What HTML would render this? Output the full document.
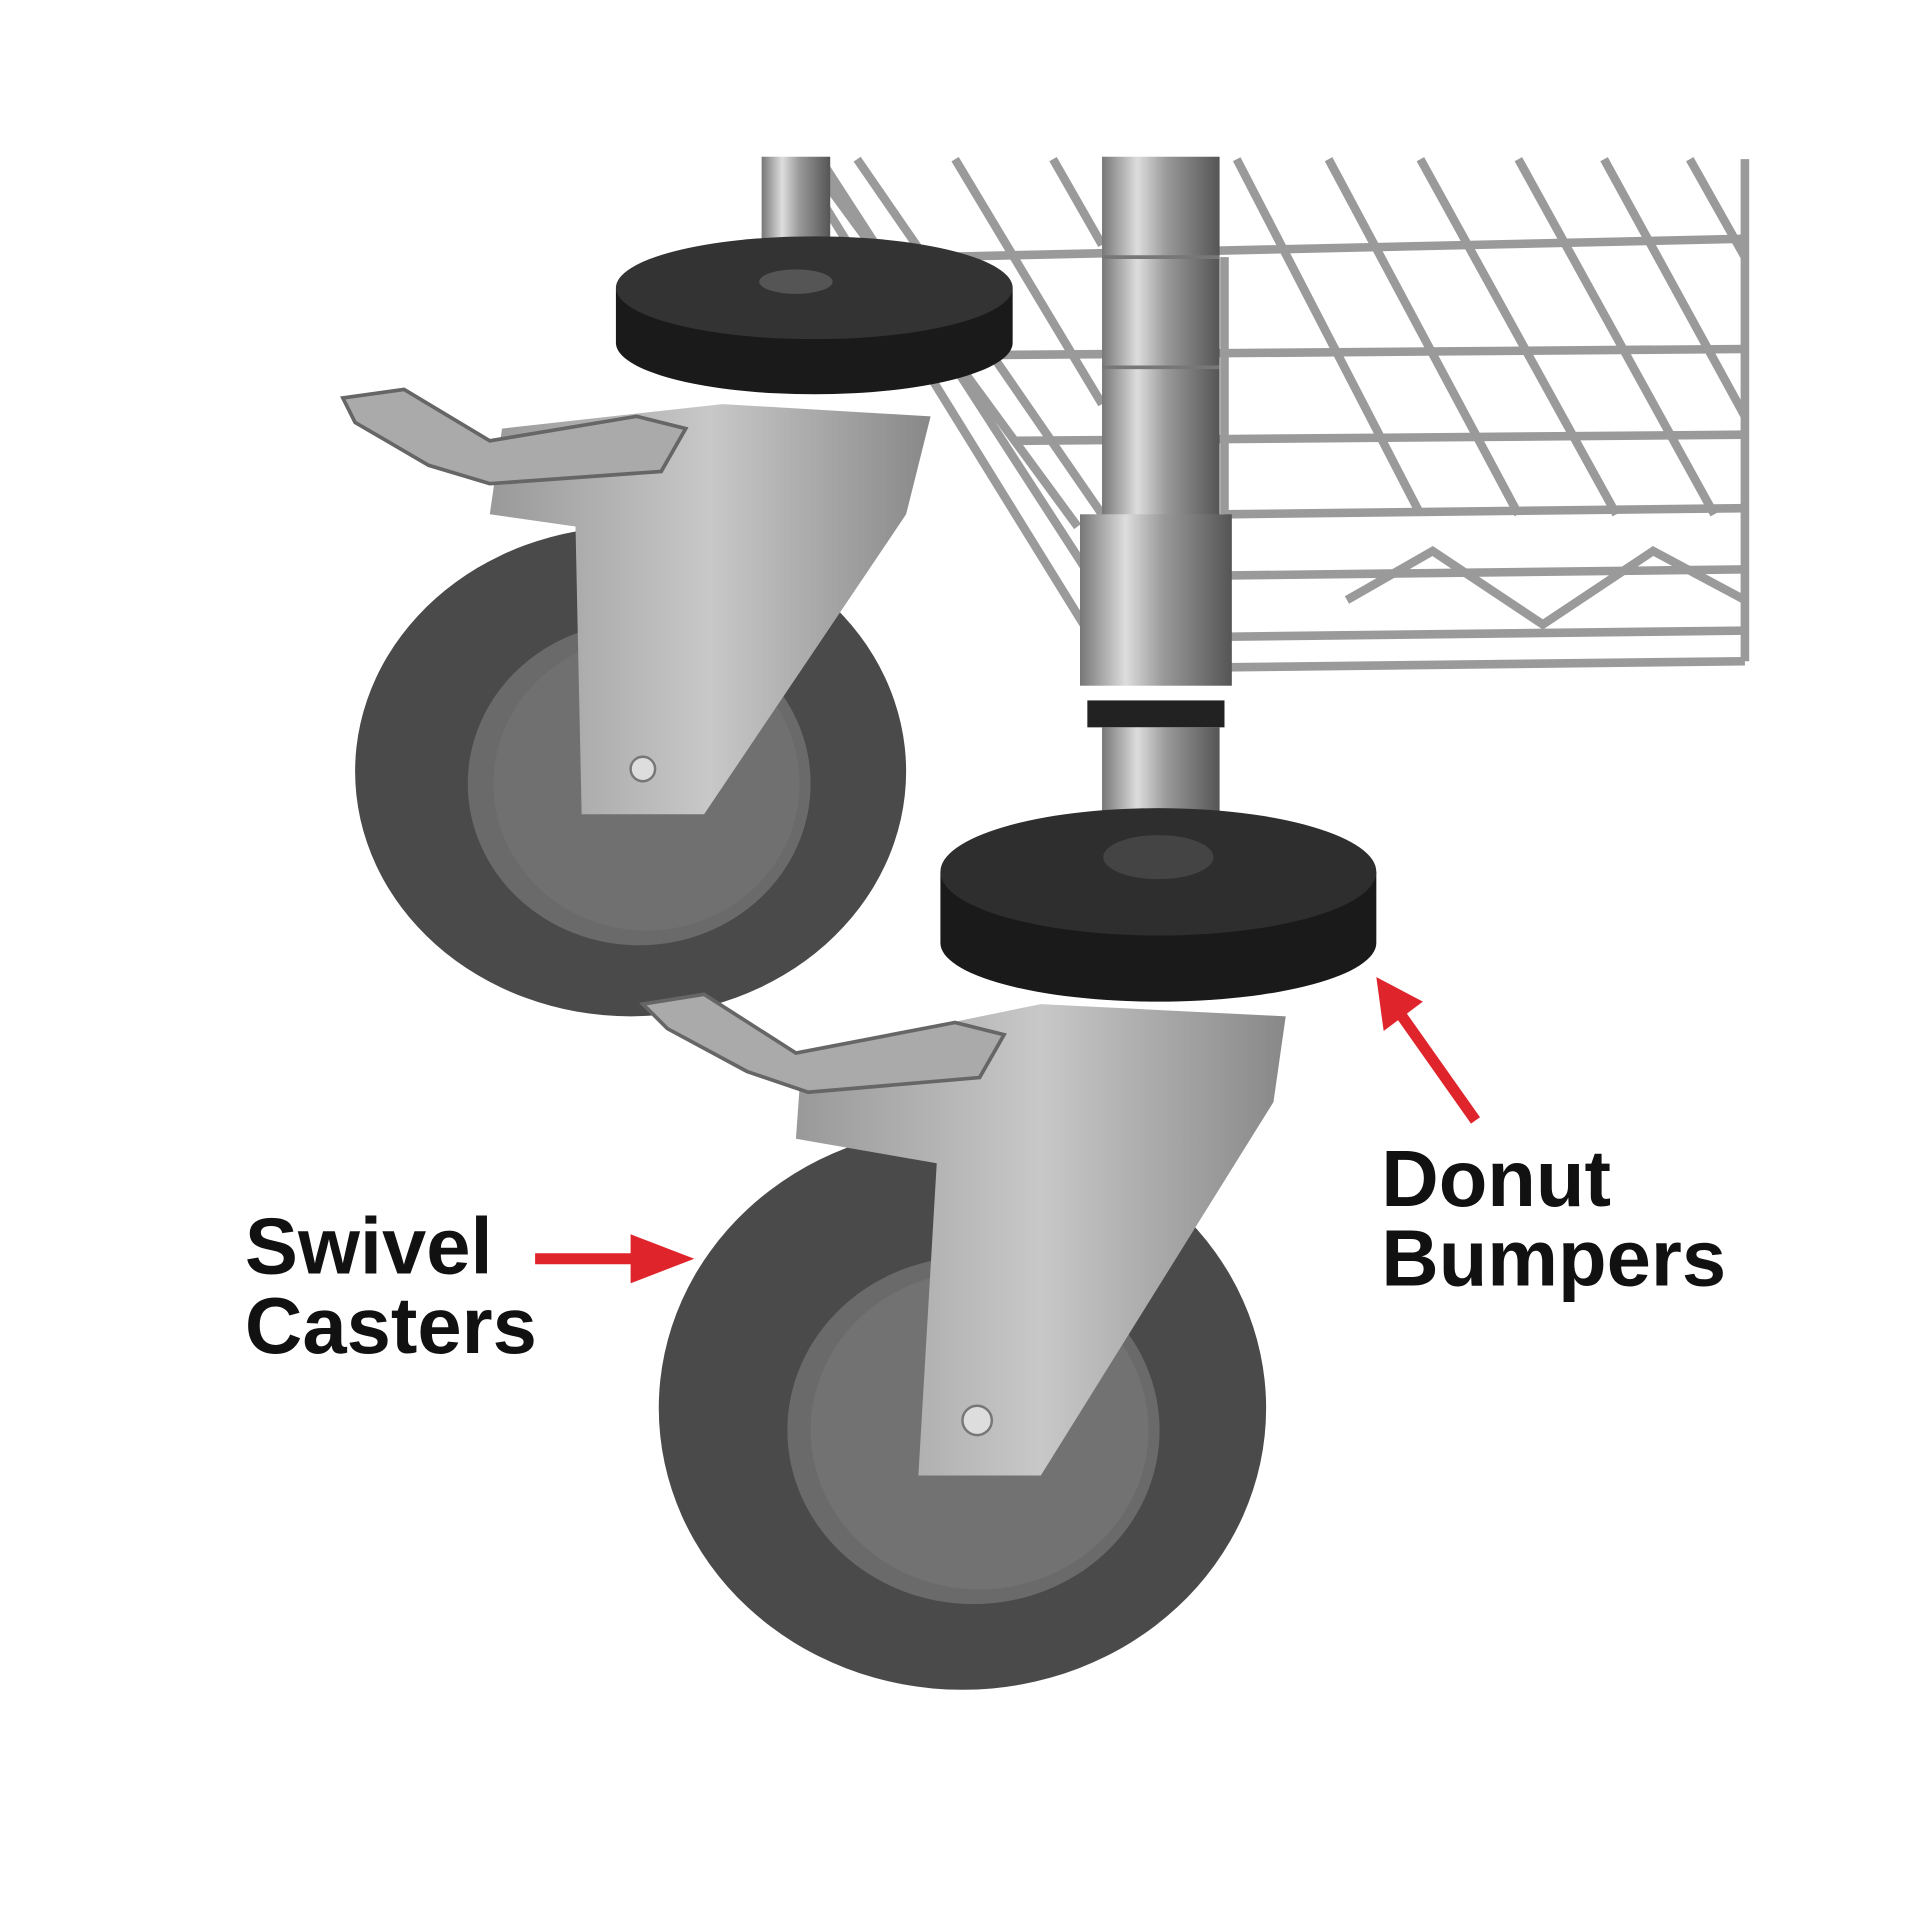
<!DOCTYPE html>
<html><head><meta charset="utf-8"><style>
html,body{margin:0;padding:0;background:#fff;}
svg{display:block;}
</style></head><body>
<svg width="1920" height="1920" viewBox="0 0 1568 1568" xmlns="http://www.w3.org/2000/svg">
<defs>
<linearGradient id="pole" x1="0" x2="1" y1="0" y2="0">
<stop offset="0" stop-color="#777"/><stop offset="0.3" stop-color="#ddd"/><stop offset="0.55" stop-color="#999"/><stop offset="1" stop-color="#555"/>
</linearGradient>
<linearGradient id="brk" x1="0" x2="1" y1="0" y2="0">
<stop offset="0" stop-color="#999"/><stop offset="0.5" stop-color="#c8c8c8"/><stop offset="1" stop-color="#888"/>
</linearGradient>
</defs>
<rect width="1568" height="1568" fill="#fff"/>
<g stroke="#9a9a9a" stroke-width="7" fill="none">
<line x1="660" y1="130" x2="880" y2="430"/>
<line x1="700" y1="130" x2="900" y2="420"/>
<line x1="780" y1="130" x2="900" y2="330"/>
<line x1="860" y1="130" x2="900" y2="200"/>
<line x1="1010" y1="130" x2="1160" y2="420"/>
<line x1="1085" y1="130" x2="1240" y2="420"/>
<line x1="1160" y1="130" x2="1320" y2="420"/>
<line x1="1240" y1="130" x2="1400" y2="420"/>
<line x1="1310" y1="130" x2="1425" y2="340"/>
<line x1="1380" y1="130" x2="1425" y2="210"/>
<line x1="1000" y1="210" x2="1000" y2="420"/>
<line x1="760" y1="210" x2="1425" y2="195"/>
<line x1="800" y1="290" x2="1425" y2="285"/>
<line x1="830" y1="360" x2="1425" y2="355"/>
<line x1="1000" y1="420" x2="1425" y2="415"/>
<line x1="1000" y1="470" x2="1425" y2="465"/>
<line x1="1000" y1="520" x2="1425" y2="515"/>
<line x1="1000" y1="545" x2="1425" y2="540"/>
<polyline points="1100,490 1170,450 1260,510 1350,450 1425,490"/>
<line x1="1425" y1="130" x2="1425" y2="540"/>
<line x1="650" y1="130" x2="885" y2="510"/>
<line x1="670" y1="130" x2="890" y2="470"/>
</g>
<rect x="622" y="128" width="56" height="110" fill="url(#pole)"/>
<path d="M503,235 L503,280 A162,42 0 0 0 827,280 L827,235 Z" fill="#1a1a1a"/>
<ellipse cx="665" cy="235" rx="162" ry="42" fill="#333"/>
<ellipse cx="650" cy="230" rx="30" ry="10" fill="#555"/>
<ellipse cx="515" cy="630" rx="225" ry="200" fill="#4a4a4a"/>
<ellipse cx="522" cy="640" rx="140" ry="132" fill="#6a6a6a"/>
<ellipse cx="528" cy="640" rx="125" ry="120" fill="#707070"/>
<path d="M590,330 L760,340 L740,420 L575,665 L475,665 L470,430 L400,420 L410,350 Z" fill="url(#brk)"/>
<path d="M280,325 L330,318 L400,360 L520,340 L560,350 L540,385 L400,395 L350,380 L290,345 Z" fill="#aaa" stroke="#666" stroke-width="3"/>
<circle cx="525" cy="628" r="10" fill="#ddd" stroke="#777" stroke-width="2"/>
<rect x="900" y="128" width="96" height="300" fill="url(#pole)"/>
<g stroke="#777" stroke-width="3"><line x1="900" y1="210" x2="996" y2="210"/><line x1="900" y1="300" x2="996" y2="300"/></g>
<rect x="882" y="420" width="124" height="140" fill="url(#pole)"/>
<rect x="888" y="572" width="112" height="22" fill="#222"/>
<rect x="900" y="594" width="96" height="110" fill="url(#pole)"/>
<path d="M768,712 L768,770 A178,48 0 0 0 1124,770 L1124,712 Z" fill="#1a1a1a"/>
<ellipse cx="946" cy="712" rx="178" ry="52" fill="#2e2e2e"/>
<ellipse cx="946" cy="700" rx="45" ry="18" fill="#444"/>
<ellipse cx="786" cy="1150" rx="248" ry="230" fill="#4a4a4a"/>
<ellipse cx="795" cy="1168" rx="152" ry="142" fill="#6a6a6a"/>
<ellipse cx="800" cy="1168" rx="138" ry="130" fill="#727272"/>
<path d="M850,820 L1050,830 L1040,900 L850,1205 L750,1205 L765,950 L650,930 L655,860 Z" fill="url(#brk)"/>
<path d="M525,820 L575,812 L650,860 L780,835 L820,845 L800,880 L660,892 L610,875 L545,840 Z" fill="#aaa" stroke="#666" stroke-width="3"/>
<circle cx="798" cy="1160" r="12" fill="#ddd" stroke="#777" stroke-width="2"/>
<g fill="#e0242c" stroke="#e0242c">
<line x1="437" y1="1028" x2="525" y2="1028" stroke-width="9"/>
<polygon points="515,1008 567,1028 515,1048" stroke="none"/>
<line x1="1205" y1="915" x2="1145" y2="830" stroke-width="9"/>
<polygon points="1124,798 1162,818 1130,842" stroke="none"/>
</g>
<g font-family="Liberation Sans, sans-serif" font-weight="bold" font-size="65" fill="#111">
<text x="200" y="1040">Swivel</text>
<text x="200" y="1105">Casters</text>
<text x="1128" y="985">Donut</text>
<text x="1128" y="1050">Bumpers</text>
</g>
</svg>
</body></html>
